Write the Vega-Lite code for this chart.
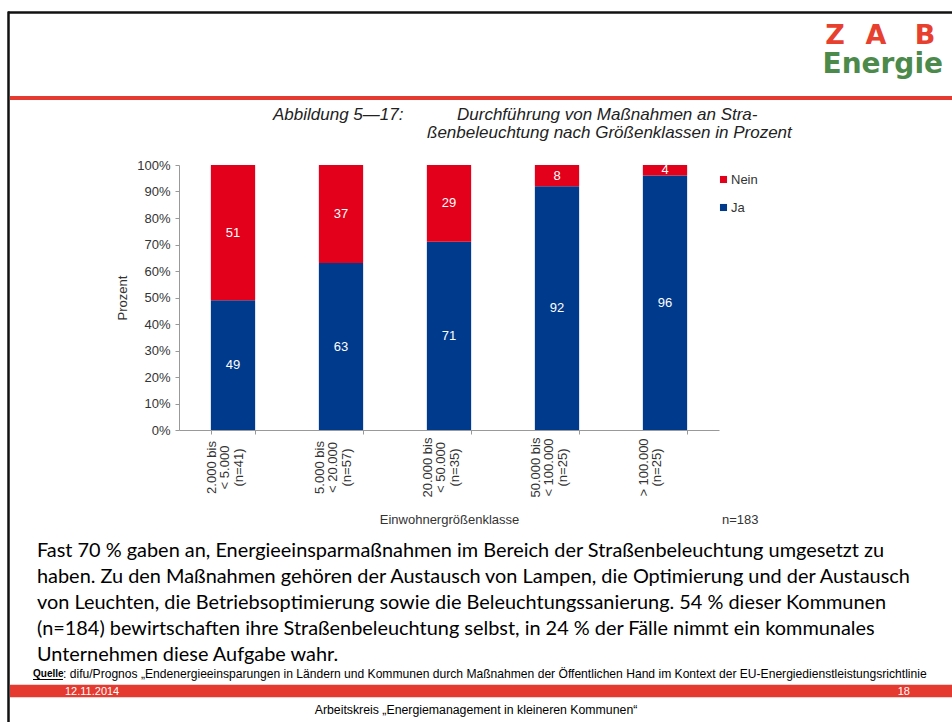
{
  "$schema": "https://vega.github.io/schema/vega-lite/v6.json",
  "width": 540,
  "height": 265,
  "autosize": {"type": "none"},
  "padding": {"left": 179, "top": 165, "right": 233, "bottom": 292},
  "background": "white",
  "config": {"view": {"stroke": null}, "font": "Liberation Sans"},
  "data": {
    "values": [
      {"klasse": "2.000 bis|< 5.000|(n=41)", "antwort": "Ja", "wert": 49},
      {"klasse": "2.000 bis|< 5.000|(n=41)", "antwort": "Nein", "wert": 51},
      {"klasse": "5.000 bis|< 20.000|(n=57)", "antwort": "Ja", "wert": 63},
      {"klasse": "5.000 bis|< 20.000|(n=57)", "antwort": "Nein", "wert": 37},
      {"klasse": "20.000 bis|< 50.000|(n=35)", "antwort": "Ja", "wert": 71},
      {"klasse": "20.000 bis|< 50.000|(n=35)", "antwort": "Nein", "wert": 29},
      {"klasse": "50.000 bis|< 100.000|(n=25)", "antwort": "Ja", "wert": 92},
      {"klasse": "50.000 bis|< 100.000|(n=25)", "antwort": "Nein", "wert": 8},
      {"klasse": "> 100.000|(n=25)", "antwort": "Ja", "wert": 96},
      {"klasse": "> 100.000|(n=25)", "antwort": "Nein", "wert": 4}
    ]
  },
  "layer": [
    {
      "encoding": {
        "x": {
          "field": "klasse", "type": "nominal", "sort": null,
          "scale": {"paddingInner": 0.59, "paddingOuter": 0.295},
          "axis": {
            "title": "Einwohnergrößenklasse",
            "labelExpr": "split(datum.label, '|')",
            "labelAngle": 270, "labelAlign": "center", "labelBaseline": "middle",
            "labelPadding": 33, "labelFontSize": 13, "labelColor": "#333", "labelLineHeight": 13.5,
            "labelOffset": -22,
            "domainColor": "#999", "tickColor": "#999", "tickSize": 4, "tickBand": "extent",
            "titleFontSize": 13, "titleFontWeight": "normal", "titleColor": "#333", "titlePadding": 17
          }
        },
        "order": {"field": "antwort", "sort": "ascending"}
      },
      "layer": [
        {
          "mark": {"type": "bar"},
          "encoding": {
            "y": {
              "field": "wert", "type": "quantitative", "stack": "zero",
              "scale": {"domain": [0, 100], "nice": false},
              "axis": {
                "title": "Prozent", "values": [0, 10, 20, 30, 40, 50, 60, 70, 80, 90, 100],
                "labelExpr": "datum.value + '%'", "grid": false, "labelOverlap": false,
                "labelFontSize": 13, "labelColor": "#333", "labelPadding": 5,
                "domainColor": "#999", "tickColor": "#999", "tickSize": 4,
                "titleFontSize": 13, "titleFontWeight": "normal", "titleColor": "#333", "titlePadding": 7
              }
            },
            "color": {
              "field": "antwort", "type": "nominal",
              "scale": {"domain": ["Nein", "Ja"], "range": ["#E2001A", "#003A8C"]},
              "legend": {
                "title": null, "orient": "none", "legendX": 538, "legendY": 8,
                "symbolType": "square", "symbolSize": 50, "labelFontSize": 13, "labelColor": "#333",
                "rowPadding": 14, "labelOffset": 1, "padding": 0
              }
            }
          }
        },
        {
          "mark": {"type": "text", "color": "white", "fontSize": 13},
          "encoding": {
            "y": {
              "field": "wert", "type": "quantitative", "stack": "zero", "bandPosition": 0.5,
              "scale": {"domain": [0, 100], "nice": false}, "axis": null
            },
            "text": {"field": "wert", "type": "quantitative"}
          }
        }
      ],
      "resolve": {"scale": {"y": "independent"}, "axis": {"y": "independent"}}
    },
    {
      "data": {"values": [{}]},
      "mark": {"type": "rule", "color": "#111", "strokeWidth": 2.5},
      "encoding": {"x": {"value": -171}, "x2": {"value": 773}, "y": {"value": -152.5}}
    },
    {
      "data": {"values": [{}]},
      "mark": {"type": "rule", "color": "#111", "strokeWidth": 2.5},
      "encoding": {"x": {"value": -170.5}, "y": {"value": -153.5}, "y2": {"value": 557}}
    },
    {
      "data": {"values": [{}]},
      "mark": {"type": "rule", "color": "#E53A30", "strokeWidth": 4},
      "encoding": {"x": {"value": -169}, "x2": {"value": 773}, "y": {"value": -67}}
    },
    {
      "data": {"values": [{}]},
      "mark": {"type": "rule", "color": "#E53A30", "strokeWidth": 12.5},
      "encoding": {"x": {"value": -169}, "x2": {"value": 773}, "y": {"value": 526}}
    },
    {
      "data": {"values": [{}]},
      "mark": {"type": "text", "font": "DejaVu Sans", "fontWeight": "bold", "fontSize": 27, "color": "#E8402F", "align": "center", "baseline": "alphabetic"},
      "encoding": {"x": {"value": 656}, "y": {"value": -121}, "text": {"value": "Z"}}
    },
    {
      "data": {"values": [{}]},
      "mark": {"type": "text", "font": "DejaVu Sans", "fontWeight": "bold", "fontSize": 27, "color": "#E8402F", "align": "center", "baseline": "alphabetic"},
      "encoding": {"x": {"value": 697}, "y": {"value": -121}, "text": {"value": "A"}}
    },
    {
      "data": {"values": [{}]},
      "mark": {"type": "text", "font": "DejaVu Sans", "fontWeight": "bold", "fontSize": 27, "color": "#E8402F", "align": "center", "baseline": "alphabetic"},
      "encoding": {"x": {"value": 746}, "y": {"value": -121}, "text": {"value": "B"}}
    },
    {
      "data": {"values": [{}]},
      "mark": {"type": "text", "font": "DejaVu Sans", "fontWeight": "bold", "fontSize": 28, "color": "#4C8A4B", "align": "right", "baseline": "alphabetic"},
      "encoding": {"x": {"value": 764}, "y": {"value": -92}, "text": {"value": "Energie"}}
    },
    {
      "data": {"values": [{}]},
      "mark": {"type": "text", "fontStyle": "italic", "fontSize": 17, "color": "#222", "align": "left", "baseline": "alphabetic"},
      "encoding": {"x": {"value": 94}, "y": {"value": -45}, "text": {"value": "Abbildung 5—17:"}}
    },
    {
      "data": {"values": [{}]},
      "mark": {"type": "text", "fontStyle": "italic", "fontSize": 17, "color": "#222", "align": "left", "baseline": "alphabetic"},
      "encoding": {"x": {"value": 278}, "y": {"value": -45}, "text": {"value": "Durchführung von Maßnahmen an Stra-"}}
    },
    {
      "data": {"values": [{}]},
      "mark": {"type": "text", "fontStyle": "italic", "fontSize": 17, "color": "#222", "align": "left", "baseline": "alphabetic"},
      "encoding": {"x": {"value": 248}, "y": {"value": -27}, "text": {"value": "ßenbeleuchtung nach Größenklassen in Prozent"}}
    },
    {
      "data": {"values": [{}]},
      "mark": {"type": "text", "fontSize": 13, "color": "#333", "align": "left", "baseline": "middle"},
      "encoding": {"x": {"value": 543}, "y": {"value": 355}, "text": {"value": "n=183"}}
    },
    {
      "data": {"values": [{}]},
      "mark": {"type": "text", "font": "Lato", "fontSize": 19.9, "lineHeight": 26, "color": "#000", "align": "left", "baseline": "alphabetic"},
      "encoding": {
        "x": {"value": -142}, "y": {"value": 392},
        "text": {"value": [
          "Fast 70 % gaben an, Energieeinsparmaßnahmen im Bereich der Straßenbeleuchtung umgesetzt zu",
          "haben. Zu den Maßnahmen gehören der Austausch von Lampen, die Optimierung und der Austausch",
          "von Leuchten, die Betriebsoptimierung sowie die Beleuchtungssanierung. 54 % dieser Kommunen",
          "(n=184) bewirtschaften ihre Straßenbeleuchtung selbst, in 24 % der Fälle nimmt ein kommunales",
          "Unternehmen diese Aufgabe wahr."
        ]}
      }
    },
    {
      "data": {"values": [{}]},
      "mark": {"type": "text", "fontSize": 10, "fontWeight": "bold", "color": "#000", "align": "left", "baseline": "middle"},
      "encoding": {"x": {"value": -146}, "y": {"value": 509}, "text": {"value": "Quelle"}}
    },
    {
      "data": {"values": [{}]},
      "mark": {"type": "rule", "color": "#000", "strokeWidth": 1},
      "encoding": {"x": {"value": -146}, "x2": {"value": -116}, "y": {"value": 514.5}}
    },
    {
      "data": {"values": [{}]},
      "mark": {"type": "text", "fontSize": 12.1, "color": "#000", "align": "left", "baseline": "middle"},
      "encoding": {"x": {"value": -116}, "y": {"value": 509}, "text": {"value": ":  difu/Prognos „Endenergieeinsparungen in Ländern und Kommunen durch Maßnahmen der Öffentlichen Hand im Kontext der EU-Energiedienstleistungsrichtlinie"}}
    },
    {
      "data": {"values": [{}]},
      "mark": {"type": "text", "fontSize": 11, "color": "white", "align": "left", "baseline": "middle"},
      "encoding": {"x": {"value": -114}, "y": {"value": 527}, "text": {"value": "12.11.2014"}}
    },
    {
      "data": {"values": [{}]},
      "mark": {"type": "text", "fontSize": 11, "color": "white", "align": "right", "baseline": "middle"},
      "encoding": {"x": {"value": 731}, "y": {"value": 527}, "text": {"value": "18"}}
    },
    {
      "data": {"values": [{}]},
      "mark": {"type": "text", "fontSize": 12.3, "color": "#000", "align": "center", "baseline": "middle"},
      "encoding": {"x": {"value": 297}, "y": {"value": 545}, "text": {"value": "Arbeitskreis „Energiemanagement in kleineren Kommunen“"}}
    }
  ]
}
